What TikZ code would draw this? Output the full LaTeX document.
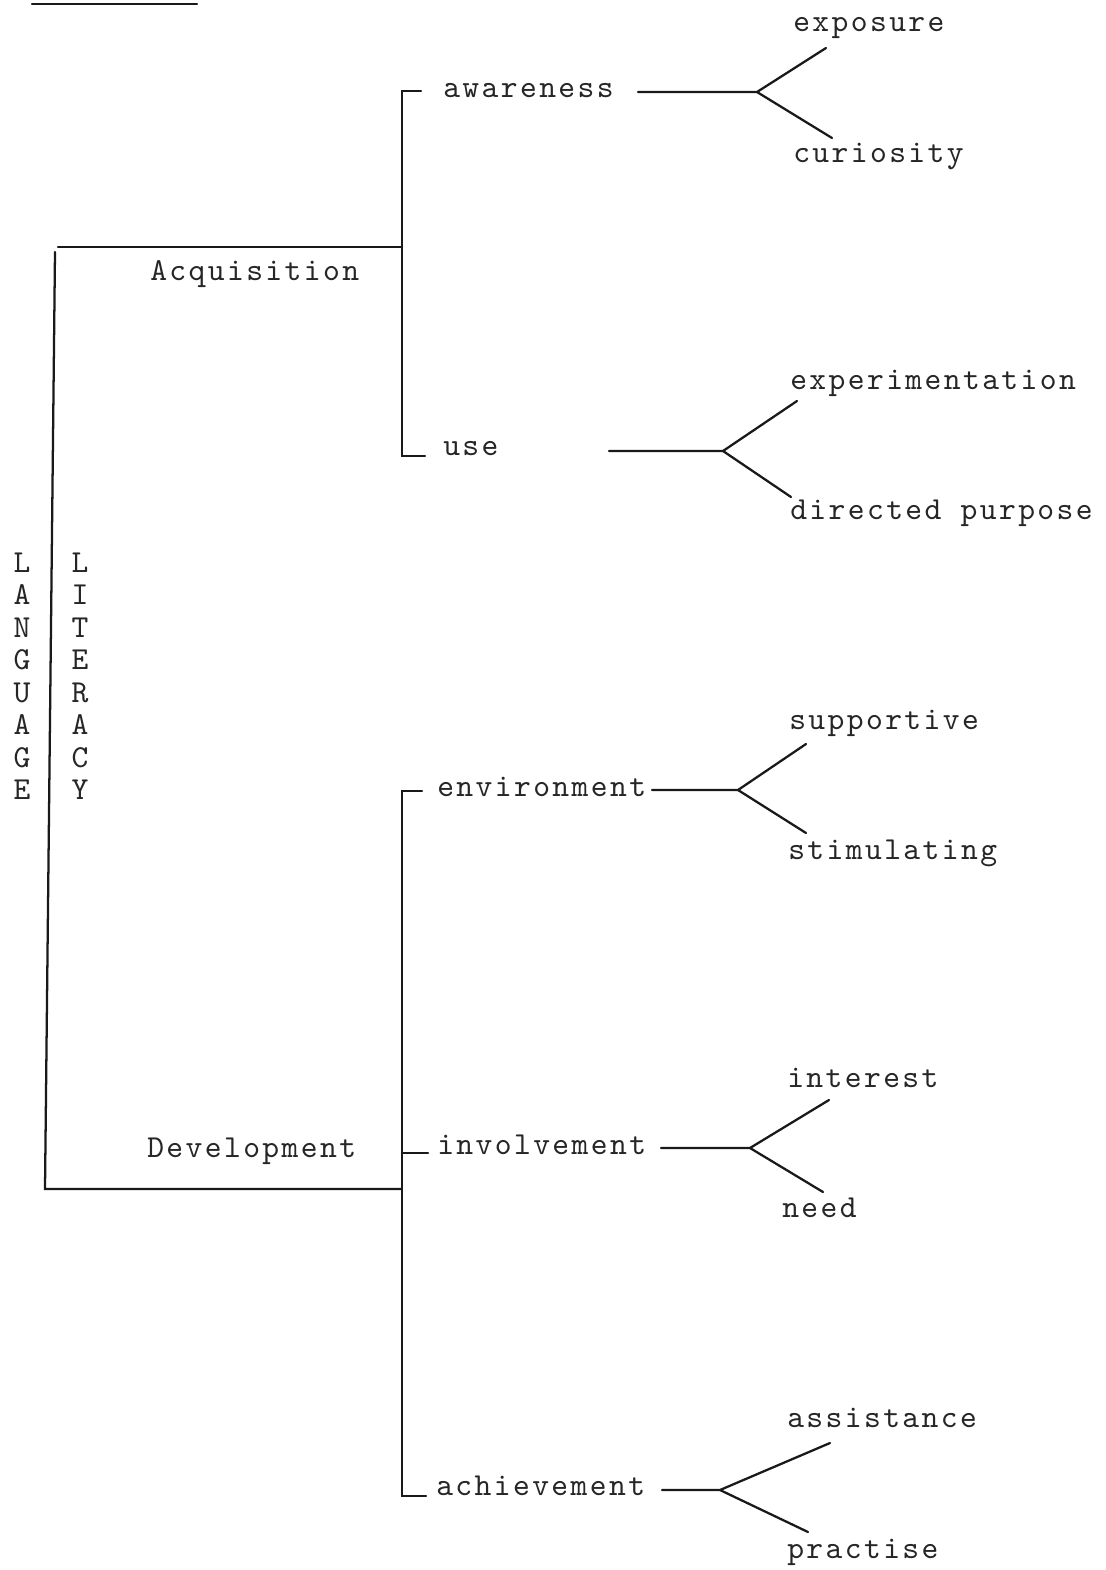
\documentclass[tikz,border=0pt]{standalone}
\usepackage{fontspec}
\newfontfamily\tw{lmmono10-regular.otf}[LetterSpace=7.5]
\begin{document}
\begin{tikzpicture}[x=0.75pt,y=-0.75pt,
  lbl/.style={anchor=base west,inner sep=0pt,text=black!85,font=\tw\fontsize{24}{24}\selectfont},
  ltr/.style={anchor=base,inner sep=0pt,text=black!85,font=\tw\fontsize{24}{24}\selectfont},
  ln/.style={line width=1.7pt,black!90,line cap=round,line join=miter}]
\useasboundingbox (0,0) rectangle (1106,1570);
\fill[white] (0,0) rectangle (1106,1570);

% top rule
\coordinate (r1) at (32,4); \coordinate (r2) at (197,4);
\draw[ln] (r1) -- (r2);

% vertical letters
\foreach \c [count=\i from 0] in {L,A,N,G,U,A,G,E}
  \node[ltr] (lang\i) at (22,{572+32.5*\i}) {\c};
\foreach \c [count=\i from 0] in {L,I,T,E,R,A,C,Y}
  \node[ltr] (lit\i) at (80,{572+32.5*\i}) {\c};

% level 1 labels
\node[lbl] (acq) at (150,280) {Acquisition};
\node[lbl] (dev) at (147,1157) {Development};

% level 2 labels
\node[lbl] (aware) at (443,98) {awareness};
\node[lbl] (use) at (443,455) {use};
\node[lbl] (env) at (437,796) {environment};
\node[lbl] (inv) at (437,1154) {involvement};
\node[lbl] (ach) at (436,1495) {achievement};

% level 3 labels
\node[lbl] (expo) at (793,32) {exposure};
\node[lbl] (curi) at (793,162) {curiosity};
\node[lbl] (expe) at (790,389) {experimentation};
\node[lbl] (dirp) at (790,519) {directed purpose};
\node[lbl] (supp) at (789,729) {supportive};
\node[lbl] (stim) at (788,859) {stimulating};
\node[lbl] (intr) at (787,1087) {interest};
\node[lbl] (need) at (782,1217) {need};
\node[lbl] (assi) at (787,1427) {assistance};
\node[lbl] (prac) at (787,1558) {practise};

% main bracket
\coordinate (b1) at (58,247);
\coordinate (b0) at (55,252);
\coordinate (b2) at (45,1189);
\coordinate (va) at (402,247);
\coordinate (vd) at (402,1189);
\draw[ln] (b1) -- (va);
\draw[ln] (b0) -- (b2) -- (vd);

% upper sub-bracket
\coordinate (ut) at (402,91); \coordinate (uth) at (421,91);
\coordinate (ub) at (402,456); \coordinate (ubh) at (425,456);
\draw[ln] (uth) -- (ut) -- (ub) -- (ubh);

% lower sub-bracket
\coordinate (lt) at (402,791); \coordinate (lth) at (422,791);
\coordinate (lb) at (402,1496); \coordinate (lbh) at (426,1496);
\coordinate (lm) at (402,1153); \coordinate (lmh) at (428,1153);
\draw[ln] (lth) -- (lt) -- (lb) -- (lbh);
\draw[ln] (lm) -- (lmh);

% forks
\coordinate (a0) at (638,92); \coordinate (a1) at (757,92);
\coordinate (a2) at (826,48); \coordinate (a3) at (832,138);
\draw[ln] (a0) -- (a1) -- (a2); \draw[ln] (a1) -- (a3);

\coordinate (u0) at (609,451); \coordinate (u1) at (723,451);
\coordinate (u2) at (797,401); \coordinate (u3) at (791,497);
\draw[ln] (u0) -- (u1) -- (u2); \draw[ln] (u1) -- (u3);

\coordinate (e0) at (652,790); \coordinate (e1) at (738,790);
\coordinate (e2) at (806,744); \coordinate (e3) at (806,833);
\draw[ln] (e0) -- (e1) -- (e2); \draw[ln] (e1) -- (e3);

\coordinate (i0) at (661,1148); \coordinate (i1) at (750,1148);
\coordinate (i2) at (829,1100); \coordinate (i3) at (823,1192);
\draw[ln] (i0) -- (i1) -- (i2); \draw[ln] (i1) -- (i3);

\coordinate (h0) at (662,1490); \coordinate (h1) at (720,1490);
\coordinate (h2) at (830,1443); \coordinate (h3) at (808,1532);
\draw[ln] (h0) -- (h1) -- (h2); \draw[ln] (h1) -- (h3);
\end{tikzpicture}
\end{document}
